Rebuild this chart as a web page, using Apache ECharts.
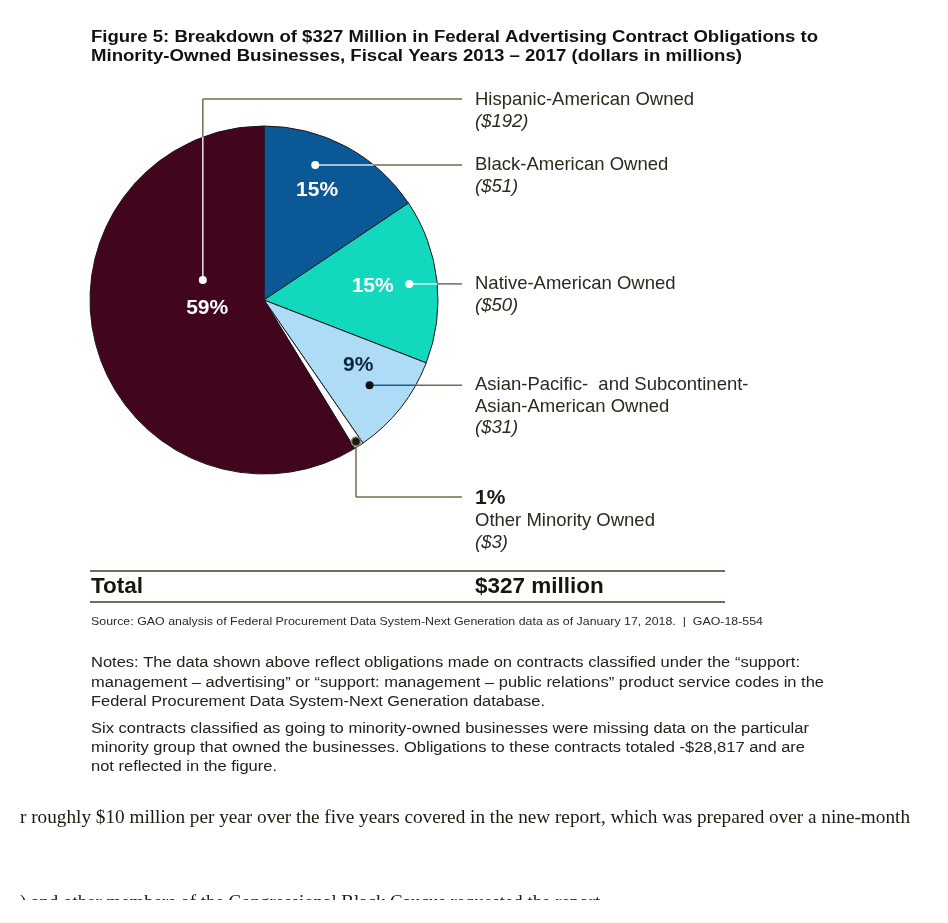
<!DOCTYPE html>
<html>
<head>
<meta charset="utf-8">
<title>Figure 5: Federal Advertising Contract Obligations to Minority-Owned Businesses</title>
<script src="https://cdn.jsdelivr.net/npm/echarts@6/dist/echarts.min.js"></script>
<style>
  html, body { margin: 0; padding: 0; background: #fff; }
  #chart { width: 948px; height: 923px; }
</style>
</head>
<body>
<div id="chart"></div>
<script>
// slices clockwise from 12 o'clock, dollars in millions
var groups = ['Black-American Owned', 'Native-American Owned', 'Asian-Pacific-  and Subcontinent-\nAsian-American Owned', 'Other Minority Owned', 'Hispanic-American Owned'];
var obligations = [51, 50, 31, 3, 192];
var shares = ['15%', '15%', '9%', '1%', '59%'];
var totalText = '$327 million';

var titleLines = [
  'Figure 5: Breakdown of $327 Million in Federal Advertising Contract Obligations to',
  'Minority-Owned Businesses, Fiscal Years 2013 \u2013 2017 (dollars in millions)'
];
var sourceText = 'Source: GAO analysis of Federal Procurement Data System-Next Generation data as of January 17, 2018.  |  GAO-18-554';
var notes = [
  'Notes: The data shown above reflect obligations made on contracts classified under the \u201csupport:',
  'management \u2013 advertising\u201d or \u201csupport: management \u2013 public relations\u201d product service codes in the',
  'Federal Procurement Data System-Next Generation database.',
  'Six contracts classified as going to minority-owned businesses were missing data on the particular',
  'minority group that owned the businesses. Obligations to these contracts totaled -$28,817 and are',
  'not reflected in the figure.'
];
var bodyLines = [
  'r roughly $10 million per year over the five years covered in the new report, which was prepared over a nine-month',
  ') and other members of the Congressional Black Caucus requested the report.'
];

// styles / layout
var sliceColors = ['#0a5996', '#12d8bd', '#aedcf6', '#ffffff', '#41061e'];
var pctColors = ['#ffffff', '#ffffff', '#0d2440', '#000', '#ffffff'];
var innerLineColors = ['#cfe5f4', '#e2faf5', '#1d5e96', '#6d7052', '#f1e2ea'];
var dotColors = ['#ffffff', '#ffffff', '#111111', '#1a1a12', '#ffffff'];
var CX = 264, CY = 300, R = 174;
var pctPos = [{ at: 0.46, r: 0.70 }, { at: 0.48, r: 0.63 }, { at: 0.40, r: 0.66 }, null, { at: 0.536, r: 0.33 }];
var pointer = [
  { at: 0.37, r: 0.83, route: 'h' },
  { at: 0.50, r: 0.84, route: 'h' },
  { at: 0.52, r: 0.78, route: 'h' },
  { at: 0.5, r: 0.97, route: 'down', textY: 498 },
  { at: 0.66, r: 0.37, route: 'up', textY: 100 }
];
var LABEL_X = 475, LINE_END = 462, ROW = 21.5;
var OLIVE = '#6d7052', INK = '#2a2a1e';
var FONT = '"Liberation Sans", Arial, sans-serif';
var SERIF = '"Liberation Serif", "Times New Roman", serif';

var sum = obligations.reduce(function (a, b) { return a + b; }, 0);
var starts = [];
obligations.reduce(function (acc, v, i) { starts[i] = acc; return acc + v; }, 0);

function polar(i, at, rf) {
  var deg = (starts[i] + at * obligations[i]) / sum * 360;
  var a = deg * Math.PI / 180;
  return [CX + rf * R * Math.sin(a), CY - rf * R * Math.cos(a)];
}

var ctx = document.createElement('canvas').getContext('2d');
function fit(text, font, width) {
  ctx.font = font;
  return width / ctx.measureText(text).width;
}
function txt(x, y, text, font, color, width) {
  return {
    type: 'text', x: x, y: y, z: 100,
    scaleX: width ? fit(text, font, width) : 1,
    style: { text: text, font: font, fill: color, align: 'left', verticalAlign: 'middle', textAlign: 'left', textVerticalAlign: 'middle' }
  };
}
function seg(x1, y1, x2, y2, color, w) {
  return { type: 'line', z: 90, shape: { x1: x1, y1: y1, x2: x2, y2: y2 }, style: { stroke: color, lineWidth: w || 1.5 } };
}

var graphics = [];

// title
graphics.push(txt(91, 38, titleLines[0], 'bold 16px ' + FONT, '#111', 727));
graphics.push(txt(91, 57, titleLines[1], 'bold 16px ' + FONT, '#111', 651));

// leader lines, dots and outside labels
groups.forEach(function (g, i) {
  var p = pointer[i];
  var d = polar(i, p.at, p.r);
  var textY;
  if (p.route === 'h') {
    var ex = CX + Math.sqrt(R * R - (d[1] - CY) * (d[1] - CY));
    graphics.push(seg(d[0], d[1], ex, d[1], innerLineColors[i]));
    graphics.push(seg(ex, d[1], LINE_END, d[1], OLIVE));
    textY = d[1];
  } else if (p.route === 'up') {
    var ey = CY - Math.sqrt(R * R - (d[0] - CX) * (d[0] - CX));
    graphics.push(seg(d[0], d[1], d[0], ey, innerLineColors[i]));
    graphics.push(seg(d[0], ey, d[0], p.textY - 1, OLIVE));
    graphics.push(seg(d[0], p.textY - 1, LINE_END, p.textY - 1, OLIVE));
    textY = p.textY;
  } else {
    graphics.push(seg(d[0], d[1], d[0], p.textY - 1, OLIVE));
    graphics.push(seg(d[0], p.textY - 1, LINE_END, p.textY - 1, OLIVE));
    textY = p.textY;
  }
  graphics.push({
    type: 'circle', z: 95, shape: { cx: d[0], cy: d[1], r: i === 3 ? 4.5 : 4 },
    style: { fill: dotColors[i], stroke: i === 3 ? '#8a8c70' : null, lineWidth: 1.5 }
  });

  var y = textY;
  if (i === 3) {
    graphics.push(txt(LABEL_X, y, shares[i], 'bold 21px ' + FONT, '#1a1a10'));
    y += ROW + 1.5;
  }
  g.split('\n').forEach(function (line) {
    graphics.push(txt(LABEL_X, y, line, '18.5px ' + FONT, INK));
    y += ROW;
  });
  graphics.push(txt(LABEL_X, y, '($' + obligations[i] + ')', 'italic 18.5px ' + FONT, INK));
});

// total row
graphics.push(seg(90, 571, 725, 571, OLIVE, 2));
graphics.push(seg(90, 602, 725, 602, OLIVE, 2));
graphics.push(txt(91, 587, 'Total', 'bold 22.5px ' + FONT, '#16160c'));
graphics.push(txt(LABEL_X, 587, totalText, 'bold 22.5px ' + FONT, '#16160c'));

// source and notes
graphics.push(txt(91, 622, sourceText, '10.5px ' + FONT, '#2a2a22', 672));
var noteY = [663, 683, 702, 729, 748, 767];
var noteW = [709, 733, 454, 718, 714, 186];
notes.forEach(function (n, i) {
  graphics.push(txt(91, noteY[i], n, '15.5px ' + FONT, '#22221a', noteW[i]));
});

// article text below the figure
graphics.push(txt(20, 818, bodyLines[0], '18px ' + SERIF, '#1a1a0e', 890));
graphics.push(txt(20, 903, bodyLines[1], '18px ' + SERIF, '#1a1a0e', 585));
graphics.push({ type: 'rect', z: 200, shape: { x: 0, y: 900, width: 948, height: 23 }, style: { fill: '#ffffff' } });

var chart = echarts.init(document.getElementById('chart'), null, { renderer: 'canvas' });
chart.setOption({
  backgroundColor: '#ffffff',
  animation: false,
  series: [{
    type: 'pie',
    center: [CX, CY],
    radius: R,
    startAngle: 90,
    clockwise: true,
    silent: true,
    itemStyle: { borderColor: '#231418', borderWidth: 1 },
    label: {
      show: true,
      position: 'inside',
      fontFamily: FONT,
      fontWeight: 'bold',
      fontSize: 21,
      formatter: function (p) { return shares[p.dataIndex]; }
    },
    labelLine: { show: false },
    labelLayout: function (p) {
      var pos = pctPos[p.dataIndex];
      if (!pos) return {};
      var pt = polar(p.dataIndex, pos.at, pos.r);
      return { x: pt[0], y: pt[1], align: 'center', verticalAlign: 'middle' };
    },
    emphasis: { disabled: true },
    data: groups.map(function (g, i) {
      return {
        name: g,
        value: obligations[i],
        itemStyle: { color: sliceColors[i] },
        label: { show: pctPos[i] !== null, color: pctColors[i] }
      };
    })
  }],
  graphic: graphics
});
</script>
</body>
</html>
